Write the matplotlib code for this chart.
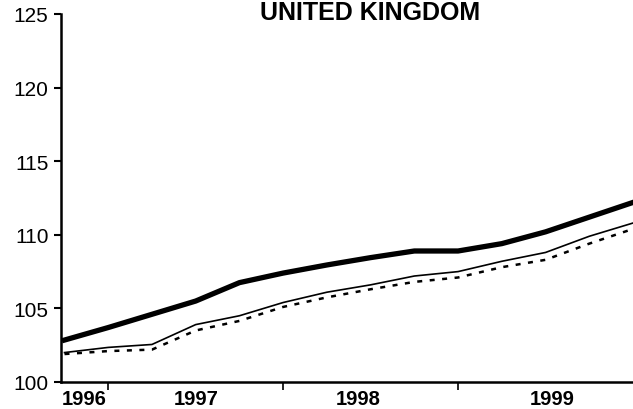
import matplotlib.pyplot as plt

plt.rcParams['font.family'] = ['Liberation Sans', 'DejaVu Sans']

# quarterly points, fractional years
years = [1996.75, 1997.0, 1997.25, 1997.5, 1997.75, 1998.0, 1998.25,
         1998.5, 1998.75, 1999.0, 1999.25, 1999.5, 1999.75, 2000.0]
thick = [102.85, 103.7, 104.6, 105.5, 106.75, 107.4, 107.95,
         108.45, 108.9, 108.9, 109.4, 110.2, 111.2, 112.2]
thin = [102.0, 102.35, 102.55, 103.9, 104.5, 105.4, 106.1,
        106.6, 107.2, 107.5, 108.2, 108.8, 109.9, 110.8]
dashed = [101.9, 102.1, 102.2, 103.5, 104.15, 105.1, 105.75,
          106.3, 106.8, 107.1, 107.8, 108.3, 109.4, 110.4]

year_labels = ['1996', '1997', '1998', '1999']
label_pos = [1996.865, 1997.5, 1998.43, 1999.54]
year_ticks = [1997, 1998, 1999]
yticks = [100, 105, 110, 115, 120, 125]

fig = plt.figure(figsize=(6.33, 4.10), dpi=100)
ax = fig.add_axes([61/633, 27/410, 1 - 61/633, (383 - 15)/410])

ax.plot(years, thick, color='black', lw=3.8, solid_joinstyle='round')
ax.plot(years, thin, color='black', lw=1.2, solid_joinstyle='round')
ax.plot(years, dashed, color='black', lw=1.8, linestyle=(0, (2, 3)))

ax.set_xlim(1996.73, 2000.0)
ax.set_ylim(100, 125)
ax.set_yticks(yticks)
ax.set_yticklabels([str(v) for v in yticks], fontsize=15)
ax.set_xticks(year_ticks)
ax.set_xticklabels([])
ax.set_xticks(label_pos, minor=True)
ax.set_xticklabels(year_labels, minor=True, fontsize=14.5, fontweight='bold')
ax.tick_params(axis='x', which='minor', length=0, pad=5)
ax.tick_params(axis='x', which='major', length=6, width=1.2, direction='out')
ax.tick_params(axis='y', length=5, width=1.5, direction='out', pad=4)

for s in ['top', 'right']:
    ax.spines[s].set_visible(False)
for s in ['left', 'bottom']:
    ax.spines[s].set_linewidth(1.8)

fig.text(370/633, 1 - 13/410, 'UNITED KINGDOM', ha='center', va='center',
         fontsize=18, fontweight='bold')

fig.savefig('out.png', dpi=100)
